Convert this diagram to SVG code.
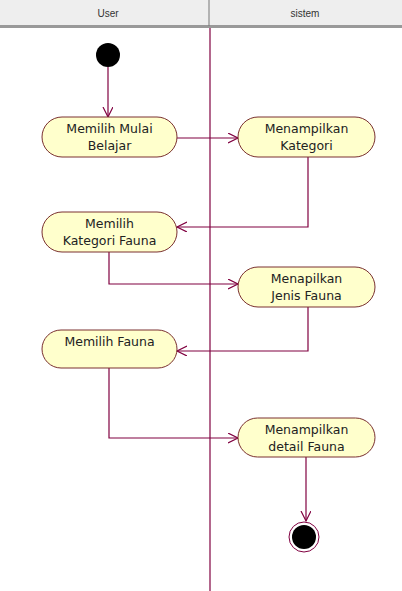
<svg xmlns="http://www.w3.org/2000/svg" width="402" height="591" viewBox="0 0 402 591">
<style>
.hdr{font-family:"Liberation Sans",Arial,sans-serif;font-size:10px;fill:#333;text-anchor:middle}
.act rect{fill:#ffffcc;stroke:#7a3030;stroke-width:1}
.act text{font-family:"DejaVu Sans","Liberation Sans",sans-serif;font-size:12.5px;fill:#222;text-anchor:middle}
.conn path{fill:none;stroke:#800040;stroke-width:1.2}
</style>
<defs>
<marker id="arr" markerWidth="12" markerHeight="12" refX="10" refY="5" orient="auto" markerUnits="userSpaceOnUse">
<path d="M0,0 L10,5 L0,10" fill="none" stroke="#800040" stroke-width="1.2"/>
</marker>
</defs>
<rect x="0" y="0" width="402" height="591" fill="#ffffff"/>
<g id="header">
<rect x="0" y="0" width="402" height="26" fill="#eeeeee"/>
<rect x="0" y="25" width="402" height="3" fill="#999999"/>
<line x1="209" y1="0" x2="209" y2="26" stroke="#777" stroke-width="1"/>
<text class="hdr" x="108" y="17">User</text>
<text class="hdr" x="305" y="17">sistem</text>
</g>
<g id="lane-divider"><line x1="210" y1="28" x2="210" y2="591" stroke="#800040" stroke-width="1.2"/></g>
<g class="conn" id="connectors">
<path d="M108,67 L108,117" marker-end="url(#arr)"/>
<path d="M177,138 L238,138" marker-end="url(#arr)"/>
<path d="M308,157 L308,227 L177,227" marker-end="url(#arr)"/>
<path d="M109,252 L109,284 L238,284" marker-end="url(#arr)"/>
<path d="M308,307 L308,351 L177,351" marker-end="url(#arr)"/>
<path d="M109,368 L109,438 L238,438" marker-end="url(#arr)"/>
<path d="M306,457 L306,521" marker-end="url(#arr)"/>
</g>
<g id="start"><circle cx="108" cy="55" r="12" fill="#000000"/></g>
<g class="act" id="n1"><rect x="42" y="117" width="135" height="40" rx="20" ry="20"/><text x="109.5" y="133">Memilih Mulai</text><text x="109.5" y="150">Belajar</text></g>
<g class="act" id="n2"><rect x="238" y="117" width="137" height="40" rx="20" ry="20"/><text x="306.5" y="133">Menampilkan</text><text x="306.5" y="150">Kategori</text></g>
<g class="act" id="n3"><rect x="42" y="212" width="135" height="40" rx="20" ry="20"/><text x="109.5" y="228">Memilih</text><text x="109.5" y="245">Kategori Fauna</text></g>
<g class="act" id="n4"><rect x="238" y="267" width="137" height="40" rx="20" ry="20"/><text x="306.5" y="283">Menapilkan</text><text x="306.5" y="300">Jenis Fauna</text></g>
<g class="act" id="n5"><rect x="42" y="330" width="135" height="38" rx="19" ry="19"/><text x="109.5" y="346">Memilih Fauna</text></g>
<g class="act" id="n6"><rect x="238" y="418" width="137" height="39" rx="19.5" ry="19.5"/><text x="306.5" y="434">Menampilkan</text><text x="306.5" y="451">detail Fauna</text></g>
<g id="end"><circle cx="304" cy="537" r="15" fill="#ffffff" stroke="#800040" stroke-width="1"/><circle cx="304" cy="537" r="12" fill="#000000"/></g>
</svg>
